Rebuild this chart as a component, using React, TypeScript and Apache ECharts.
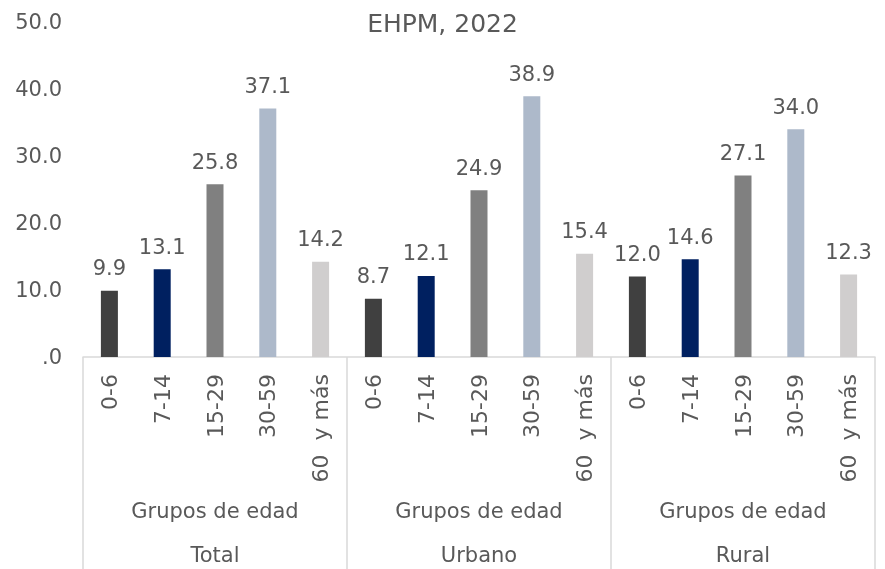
import React, { useEffect, useRef } from "react";
import * as echarts from "echarts";

const ageGroups = ["0-6", "7-14", "15-29", "30-59", "60  y más"];
const areas = ["Total", "Urbano", "Rural"];
const groupLabel = "Grupos de edad";
const totalValues = [9.9, 13.1, 25.8, 37.1, 14.2];
const urbanoValues = [8.7, 12.1, 24.9, 38.9, 15.4];
const ruralValues = [12.0, 14.6, 27.1, 34.0, 12.3];
const ageColors = ["#404040", "#002060", "#808080", "#ADB9CA", "#D0CECE"];
const yTicks = { min: 0, max: 50, interval: 10 };
const subtitle = "EHPM, 2022";

const FONT = "'DejaVu Sans', sans-serif";
const TXT = "#595959";
const FS = 21;
const FW = "normal";

export default function App() {
  const ref = useRef<HTMLDivElement>(null);
  useEffect(() => {
    if (!ref.current) return;
    const chart = echarts.init(ref.current, undefined, { renderer: "svg" });
    const allValues = [totalValues, urbanoValues, ruralValues];
    const cats: string[] = [];
    const data: any[] = [];
    areas.forEach((_, ai) => {
      ageGroups.forEach((g, gi) => {
        cats.push(g);
        data.push({ value: allValues[ai][gi], itemStyle: { color: ageColors[gi] } });
      });
    });
    const txt = { color: TXT, fontSize: FS, fontFamily: FONT, fontWeight: FW };
    chart.setOption({
      animation: false,
      textStyle: { fontFamily: FONT },
      title: {
        text: subtitle,
        left: "center",
        top: 6,
        textStyle: { fontFamily: FONT, fontSize: 25, fontWeight: FW, color: TXT },
      },
      grid: { left: 83, right: 10, top: 22, bottom: 212, containLabel: false },
      xAxis: [
        {
          type: "category",
          data: cats,
          position: "bottom",
          axisLine: { show: true, lineStyle: { color: "#D9D9D9", width: 1.5 } },
          axisTick: { show: false },
          axisLabel: { rotate: 90, interval: 0, margin: 17, ...txt, fontSize: 22 },
        },
        {
          type: "category",
          data: areas.map(() => groupLabel),
          position: "bottom",
          axisLine: { show: false },
          axisTick: { show: true, length: 220, lineStyle: { color: "#D9D9D9", width: 1.5 } },
          axisLabel: { interval: 0, margin: 143, ...txt },
        },
        {
          type: "category",
          data: areas,
          position: "bottom",
          axisLine: { show: false },
          axisTick: { show: false },
          axisLabel: { interval: 0, margin: 187, ...txt },
        },
      ],
      yAxis: {
        type: "value",
        min: yTicks.min,
        max: yTicks.max,
        interval: yTicks.interval,
        axisLine: { show: false },
        axisTick: { show: false },
        splitLine: { show: false },
        axisLabel: {
          margin: 21,
          ...txt,
          formatter: (v: number) => (v === 0 ? ".0" : v.toFixed(1)),
        },
      },
      series: [
        {
          type: "bar",
          xAxisIndex: 0,
          data,
          barWidth: 17,
          label: {
            show: true,
            position: "top",
            distance: 12,
            ...txt,
            formatter: (p: any) => Number(p.value).toFixed(1),
          },
        },
      ],
    });
    return () => chart.dispose();
  }, []);
  return (
    <div
      ref={ref}
      style={{ position: "fixed", left: 0, top: 0, width: 885, height: 569 }}
    />
  );
}
